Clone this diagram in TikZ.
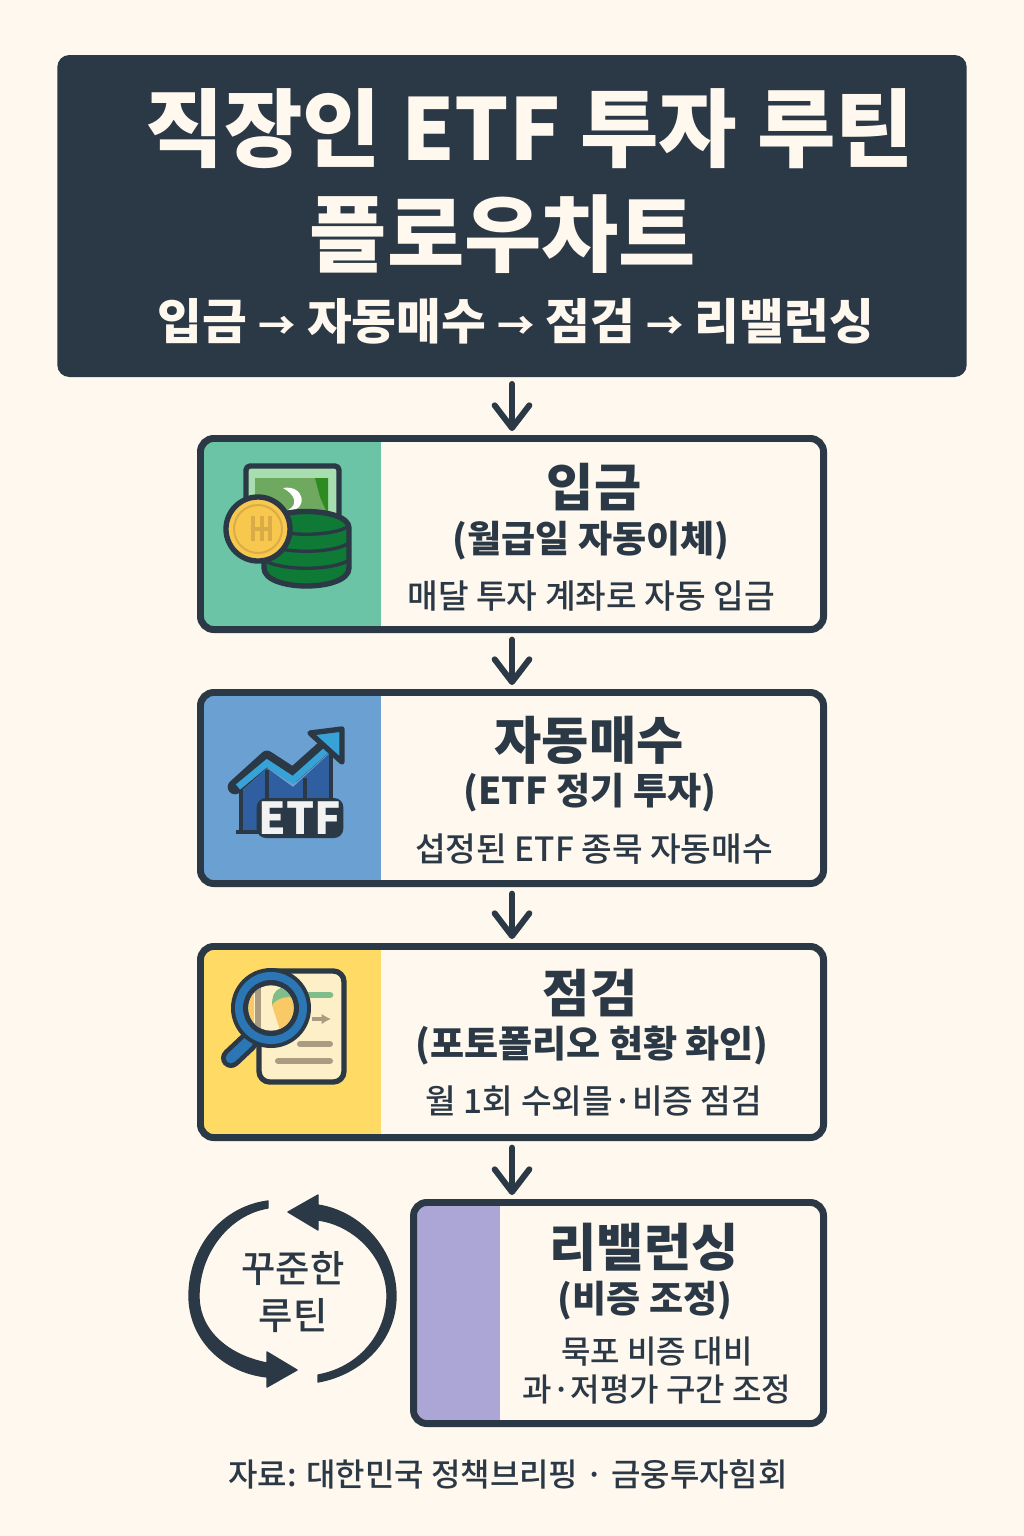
\documentclass[tikz,border=0pt]{standalone}
\usepackage{fontspec}
\setmainfont{Noto Sans CJK KR}
\newfontfamily\medfont{Noto Sans CJK KR Medium}
\usetikzlibrary{arrows.meta,positioning,calc}
\definecolor{inkdark}{HTML}{2B3845}
\definecolor{creambg}{HTML}{FFF8EE}
\definecolor{panelgreen}{HTML}{6BC4A6}
\definecolor{panelblue}{HTML}{6AA1D2}
\definecolor{panelyellow}{HTML}{FFDB66}
\definecolor{panelpurple}{HTML}{ABA6D6}
\definecolor{billlight}{HTML}{A8DDB0}
\definecolor{billmid}{HTML}{6FA85F}
\definecolor{billdark}{HTML}{2E8B1F}
\definecolor{stackgreen}{HTML}{0F7A35}
\definecolor{coinfill}{HTML}{F8C74E}
\definecolor{coinmark}{HTML}{D9AC48}
\definecolor{barblue}{HTML}{2F5FA0}
\definecolor{linecyan}{HTML}{36A2D6}
\definecolor{lensblue}{HTML}{2B77B5}
\definecolor{docfill}{HTML}{FDF0C8}
\definecolor{doctan}{HTML}{A99C80}
\definecolor{docgreen}{HTML}{7FBE8A}
\definecolor{docorange}{HTML}{F8C964}
\newcommand{\fsize}[1]{\fontsize{#1}{#1}\selectfont}

\begin{document}
\begin{tikzpicture}[
  x=0.75pt,y=-0.75pt,
  node distance=42pt,
  every node/.style={align=center,text=inkdark,inner sep=0pt},
  header/.style={fill=inkdark,rounded corners=9pt,minimum width=682pt,minimum height=241.5pt},
  cardbox/.style n args={3}{draw=inkdark,line width=5.2pt,fill=creambg,rounded corners=10pt,
    minimum width=#1,minimum height=143.3pt,
    path picture={\fill[#2,sharp corners] (path picture bounding box.north west) rectangle
      ([xshift=#3]path picture bounding box.south west);}},
  titletext/.style={font=\fsize{64pt}\bfseries,text=creambg},
  routetext/.style={font=\fsize{36.5pt}\bfseries,text=creambg},
  headtext/.style={font=\fsize{38.5pt}\bfseries},
  subtext/.style={font=\fsize{27.8pt}\bfseries},
  desctext/.style={font=\fsize{25pt}\medfont},
  arr/.style={-{Straight Barb[length=17pt,width=26pt,round]},line width=4.5pt,draw=inkdark,line cap=round,
    shorten <=5pt,shorten >=3pt},
  icon/.style={draw=inkdark,line width=4pt,line join=round},
  loopfill/.style={fill=inkdark,draw=inkdark,line width=1pt,line join=round}
]
\useasboundingbox[fill=creambg] (0,0) rectangle (1024,1536);

\node[header] (hd) at (512,216) {};
\node[titletext] (ttl) at (530,129) {직장인 ETF 투자 루틴};
\node[titletext,font=\fsize{63pt}\bfseries] (ttlb) at (503,234) {플로우차트};
\node[routetext] (route) at (516,321) {입금 {\fsize{28pt}→} 자동매수 {\fsize{28pt}→} 점검 {\fsize{28pt}→} 리밸런싱};

\node[cardbox={467.3pt}{panelgreen}{135.4pt}] (deposit) at (512,534) {};
\node[cardbox={467.3pt}{panelblue}{135.4pt},below=of deposit] (buy) {};
\node[cardbox={467.3pt}{panelyellow}{135.4pt},below=of buy] (check) {};
\node[cardbox={307.5pt}{panelpurple}{65pt},minimum height=165.8pt,
  below=43.5pt of check.south east,anchor=north east] (rebal) {};

\draw[arr] (hd) -- (deposit);
\draw[arr] (deposit) -- (buy);
\draw[arr] (buy) -- (check);
\draw[arr] (check.south) -- (check.south |- rebal.north);

\node[headtext] (deposithd) at (594,487) {입금};
\node[subtext] (depositsub) at (591,541) {(월급일 자동이체)};
\node[desctext] (depositds) at (591,596) {매달 투자 계좌로 자동 입금};

\node[headtext] (buyhd) at (589,740) {자동매수};
\node[subtext] (buysub) at (590,793) {(ETF 정기 투자)};
\node[desctext] (buyds) at (594,849) {섭정된 ETF 종묵 자동매수};

\node[headtext] (checkhd) at (590,993) {점검};
\node[subtext] (checksub) at (592,1046) {(포토폴리오 현황 화인)};
\node[desctext] (checkds) at (594,1101) {월 1회 수외믈·비증 점검};

\node[headtext] (rebalhd) at (644,1247) {리밸런싱};
\node[subtext] (rebalsub) at (645,1301) {(비증 조정)};
\node[desctext,font=\fsize{24pt}\medfont] (rebalds) at (657,1371) {묵포 비증 대비\\[4.5pt]과·저평가 구간 조정};

\node[font=\fsize{28pt}\medfont] (loopt) at (293,1292) {꾸준한\\[7pt]루틴};
\node[font=\fsize{24pt}\medfont] (src) at (508,1474) {자료: 대한민국 정책브리핑 · 금웅투자힘회};

\fill[loopfill] (268,1201) .. controls (222,1207) and (189,1247) .. (189,1296)
  .. controls (189,1338) and (222,1372) .. (267,1377) -- (267,1387) -- (297,1370) -- (267,1352) -- (267,1363)
  .. controls (230,1356) and (199,1332) .. (199,1296) .. controls (199,1252) and (230,1214) .. (268,1208) -- cycle;
\fill[loopfill] (318,1382) .. controls (362,1374) and (396,1340) .. (396,1296)
  .. controls (396,1251) and (362,1212) .. (318,1205) -- (318,1195) -- (288,1212) -- (318,1230) -- (318,1220)
  .. controls (355,1225) and (387,1258) .. (387,1296) .. controls (387,1335) and (358,1368) .. (318,1375) -- cycle;

\draw[icon,fill=billlight,rounded corners=3pt] (246,466) rectangle (339,530);
\fill[billmid] (255,478) rectangle (328,525);
\fill[billdark] (315,478) -- (328,478) -- (328,515) -- (320,497) -- cycle;
\fill[white] (283,488) .. controls (305,484) and (309,512) .. (288,510) .. controls (298,505) and (296,495) .. (283,488) -- cycle;
\path[icon,fill=stackgreen,draw=inkdark] (264,528) .. controls (264,506) and (349,506) .. (349,528) -- (349,568)
  .. controls (349,592) and (264,592) .. (264,568) -- cycle;
\draw[line width=2.5pt,draw=inkdark] (264,526) .. controls (280,537) and (333,537) .. (349,526)
  (264,543) .. controls (280,554) and (333,554) .. (349,543)
  (264,560) .. controls (280,571) and (333,571) .. (349,560);
\draw[icon,fill=coinfill] (258,529) circle (24pt);
\draw[line width=1.5pt,draw=coinmark] (258,529) circle (18pt);
\draw[line width=2.5pt,draw=coinmark] (253,516) -- (253,541) (262,516) -- (262,541) (270,516) -- (270,541) (251,529) -- (272,529);

\fill[barblue] (240,793) -- (267,768) -- (293,787) -- (330,753) -- (330,830) -- (240,830) -- cycle;
\draw[line width=3.5pt,draw=inkdark] (241,790) -- (241,832) (267,770) -- (267,830) (305,778) -- (305,830) (331,752) -- (331,800) (236,832) -- (262,832);
\draw[line width=11pt,draw=inkdark,line join=round,line cap=round] (235,787) -- (267,758) -- (293,775) -- (330,742);
\draw[line width=5pt,draw=linecyan,line join=miter] (238,787) -- (267,763) -- (293,780) -- (330,747);
\draw[icon,fill=linecyan] (310,733) -- (342,729) -- (342,762) -- cycle;
\node[fill=inkdark,rounded corners=7pt,minimum width=65pt,minimum height=30pt,font=\fsize{33pt}\bfseries,text=white!95!black] (etflbl) at (300,818) {ETF};

\draw[icon,fill=docfill,rounded corners=8pt] (259,971) rectangle (344,1082);
\draw[line width=5pt,draw=docgreen,line cap=round] (305,995) -- (330,995);
\draw[line width=3pt,draw=doctan,-{Latex[length=7pt,width=8pt]}] (312,1019) -- (331,1019);
\draw[line width=4.5pt,draw=doctan,line cap=round] (300,1044) -- (330,1044) (278,1061) -- (330,1061);
\draw[line width=15pt,draw=inkdark,line cap=round] (248,1042) -- (231,1058);
\draw[line width=8pt,draw=lensblue,line cap=round] (248,1042) -- (231,1058);
\fill[inkdark] (271,1008) circle (30pt);
\fill[lensblue] (271,1008) circle (27pt);
\fill[inkdark] (271,1008) circle (21pt);
\begin{scope}
  \clip (271,1008) circle (17pt);
  \fill[docfill] (245,985) rectangle (295,1035);
  \fill[docorange] (245,985) rectangle (254,1035);
  \fill[doctan] (255,985) rectangle (261,1035);
  \fill[docgreen] (272,1005) .. controls (272,985) and (285,985) .. (300,990) -- (300,1005) -- cycle;
  \fill[docorange] (272,1005) .. controls (280,994) and (300,995) .. (300,1005) -- (290,1035) -- (280,1030) -- cycle;
\end{scope}
\end{tikzpicture}
\end{document}
